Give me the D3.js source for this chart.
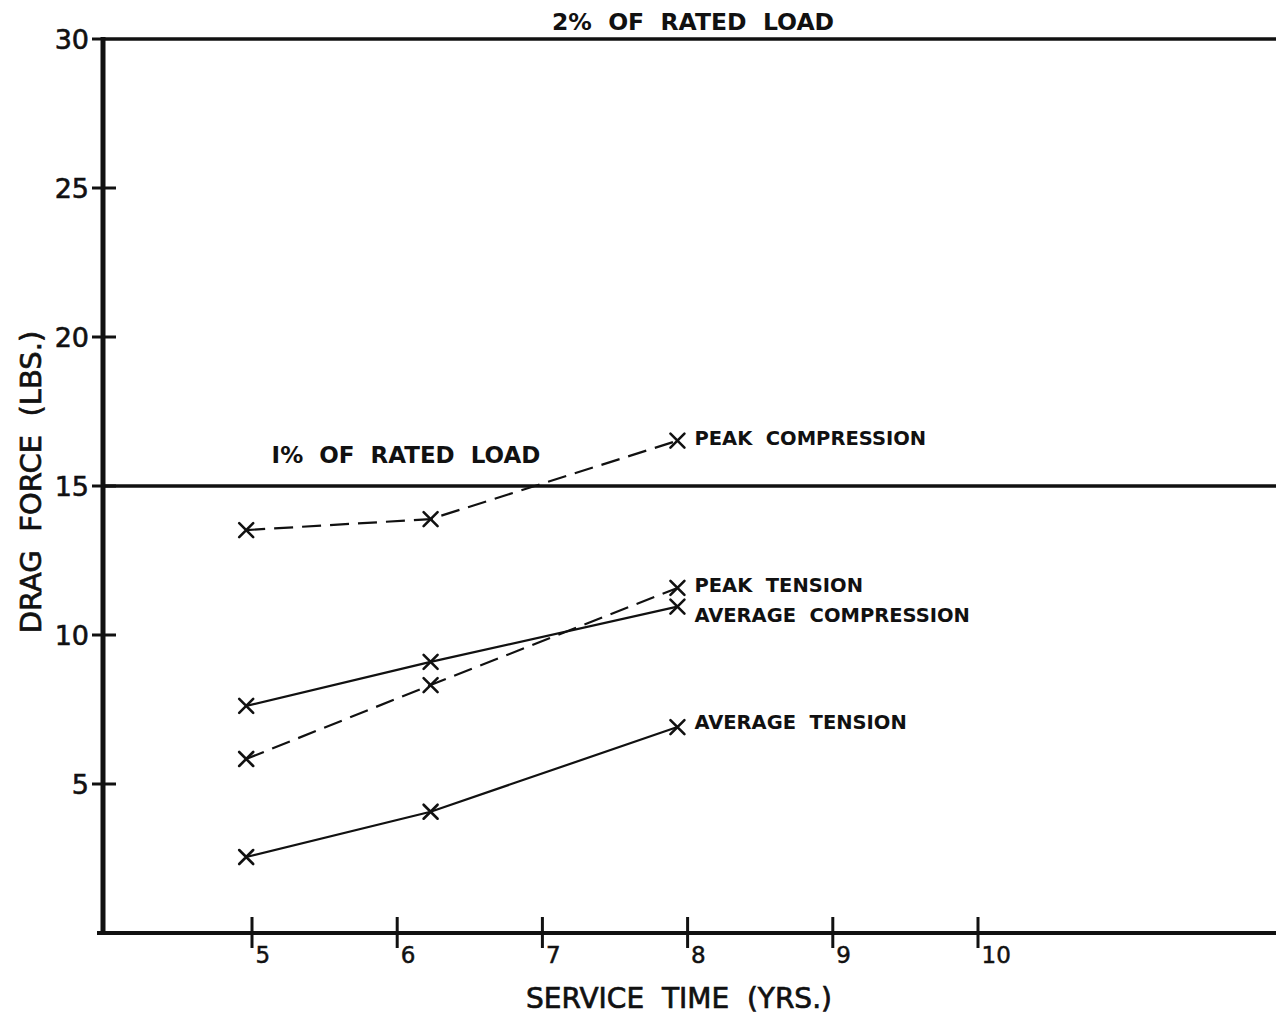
<!DOCTYPE html>
<html>
<head>
<meta charset="utf-8">
<script src="https://cdn.jsdelivr.net/npm/d3@7"></script>
<style>
  html, body { margin: 0; padding: 0; background: #fff; }
  svg { display: block; }
  text { font-family: "DejaVu Sans", sans-serif; fill: #111; white-space: pre; }
</style>
</head>
<body>
<svg id="chart" width="1280" height="1019"></svg>
<script>
// Service time (years) at which each measurement was taken
const serviceYears = [4.96, 6.23, 7.93];

// Drag force (lbs.) per series
const peakCompression    = [13.52, 13.89, 16.52];
const peakTension        = [5.84, 8.32, 11.58];
const averageCompression = [7.62, 9.10, 10.95];
const averageTension     = [2.55, 4.07, 6.91];

const seriesNames  = ["PEAK  COMPRESSION", "PEAK  TENSION", "AVERAGE  COMPRESSION", "AVERAGE  TENSION"];
const seriesValues = [peakCompression, peakTension, averageCompression, averageTension];
const seriesDashed = [true, true, false, false];

// Axis ticks
const xTicks = [5, 6, 7, 8, 9, 10];
const yTicks = [5, 10, 15, 20, 25, 30];

// Reference load lines
const refLoads  = [15, 30];
const refLabels = ["I%  OF  RATED  LOAD", "2%  OF  RATED  LOAD"];

const svg = d3.select("#chart");
const ink = "#111";

const x = d3.scaleLinear().domain([5, 10]).range([252, 978]);
const y = d3.scaleLinear().domain([0, 30]).range([933, 39]);

const leftX = 103, rightX = 1276;

// Reference load lines (the 30 lb line forms the top of the frame)
svg.selectAll("line.ref").data(refLoads).join("line")
  .attr("class", "ref")
  .attr("x1", leftX).attr("x2", rightX)
  .attr("y1", d => y(d)).attr("y2", d => y(d))
  .attr("stroke", ink).attr("stroke-width", 3.5);

svg.append("text")
  .attr("x", 693).attr("y", 30)
  .attr("text-anchor", "middle")
  .attr("font-size", 23.5).attr("font-weight", "bold")
  .text(refLabels[1]);

svg.append("text")
  .attr("x", 406).attr("y", 463)
  .attr("text-anchor", "middle")
  .attr("font-size", 23).attr("font-weight", "bold")
  .text(refLabels[0]);

// Y axis
const yAxis = d3.axisLeft(y).tickValues(yTicks).tickFormat(d3.format("d")).tickSize(0).tickPadding(14);
const gy = svg.append("g").attr("transform", `translate(${leftX},0)`).call(yAxis);
gy.select(".domain").remove();
gy.selectAll("text")
  .attr("font-size", 27)
  .attr("font-family", "DejaVu Sans, sans-serif")
  .attr("fill", ink)
  .attr("stroke", ink).attr("stroke-width", 0.6)
  .attr("dy", "0.36em");
svg.selectAll("line.ytick").data(yTicks).join("line")
  .attr("class", "ytick")
  .attr("x1", leftX - 11).attr("x2", d => d === 30 ? leftX : leftX + 13)
  .attr("y1", d => y(d)).attr("y2", d => y(d))
  .attr("stroke", ink).attr("stroke-width", 3);
svg.append("line")
  .attr("x1", leftX).attr("x2", leftX)
  .attr("y1", y(30) - 2).attr("y2", y(0) + 2)
  .attr("stroke", ink).attr("stroke-width", 5);

// X axis
const baseY = y(0);
svg.append("line")
  .attr("x1", 97).attr("x2", rightX)
  .attr("y1", baseY).attr("y2", baseY)
  .attr("stroke", ink).attr("stroke-width", 4);
const xAxis = d3.axisBottom(x).tickValues(xTicks).tickFormat(d3.format("d")).tickSize(0).tickPadding(0);
const gx = svg.append("g").attr("transform", `translate(0,${baseY})`).call(xAxis);
gx.select(".domain").remove();
gx.selectAll("text")
  .attr("font-size", 23)
  .attr("font-family", "DejaVu Sans, sans-serif")
  .attr("fill", ink)
  .attr("stroke", ink).attr("stroke-width", 0.5)
  .attr("text-anchor", "start")
  .attr("x", 3).attr("y", 30).attr("dy", 0);
svg.selectAll("line.xtick").data(xTicks).join("line")
  .attr("class", "xtick")
  .attr("x1", d => x(d)).attr("x2", d => x(d))
  .attr("y1", baseY - 16).attr("y2", baseY + 15)
  .attr("stroke", ink).attr("stroke-width", 3);

// Axis titles
svg.append("text")
  .attr("x", 679).attr("y", 1008)
  .attr("text-anchor", "middle")
  .attr("font-size", 28)
  .attr("stroke", ink).attr("stroke-width", 0.7)
  .text("SERVICE  TIME  (YRS.)");

svg.append("text")
  .attr("transform", "translate(41,482) rotate(-90)")
  .attr("text-anchor", "middle")
  .attr("font-size", 29)
  .attr("stroke", ink).attr("stroke-width", 0.7)
  .text("DRAG  FORCE  (LBS.)");

// Series lines
const line = d3.line().x(d => x(d[0])).y(d => y(d[1]));
seriesValues.forEach((vals, i) => {
  const pts = serviceYears.map((t, j) => [t, vals[j]]);
  svg.append("path")
    .attr("d", line(pts))
    .attr("fill", "none")
    .attr("stroke", ink)
    .attr("stroke-width", 2.2)
    .attr("stroke-dasharray", seriesDashed[i] ? "19,9" : null);

  // X markers
  svg.selectAll(null).data(pts).join("path")
    .attr("transform", d => `translate(${x(d[0])},${y(d[1])})`)
    .attr("d", "M-7,-7L7,7M-7,7L7,-7")
    .attr("fill", "none")
    .attr("stroke", ink)
    .attr("stroke-width", 2.6)
    .attr("stroke-linecap", "round");
});

// Series labels, placed just right of the last point
const labelDy = [4, 4, 15, 2];
seriesValues.forEach((vals, i) => {
  const last = vals.length - 1;
  svg.append("text")
    .attr("x", x(serviceYears[last]) + 17)
    .attr("y", y(vals[last]) + labelDy[i])
    .attr("font-size", 19.5)
    .attr("font-weight", "bold")
    .text(seriesNames[i]);
});
</script>
</body>
</html>
